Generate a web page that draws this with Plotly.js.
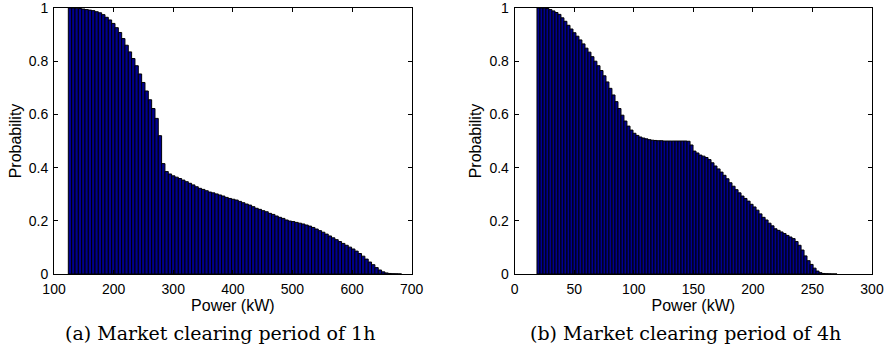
<!DOCTYPE html>
<html>
<head>
<meta charset="utf-8">
<script src="https://cdn.plot.ly/plotly-3.0.1.min.js"></script>
<style>html,body{margin:0;padding:0;background:#fff;}#chart{width:884px;height:349px;}</style>
</head>
<body>
<div id="chart"></div>
<script>
// ---- Data: (a) Market clearing period of 1h ----
const powerA = [126.8,132.4,138.0,143.6,149.2,154.8,160.3,165.9,171.5,177.1,182.7,188.3,193.9,199.5,205.1,210.7,216.2,221.8,227.4,233.0,
238.6,244.2,249.8,255.4,261.0,266.6,272.1,277.7,283.3,288.9,294.5,300.1,305.7,311.3,316.9,322.5,328.0,333.6,339.2,344.8,
350.4,356.0,361.6,367.2,372.8,378.4,383.9,389.5,395.1,400.7,406.3,411.9,417.5,423.1,428.7,434.3,439.8,445.4,451.0,456.6,
462.2,467.8,473.4,479.0,484.6,490.2,495.7,501.3,506.9,512.5,518.1,523.7,529.3,534.9,540.5,546.1,551.6,557.2,562.8,568.4,
574.0,579.6,585.2,590.8,596.4,602.0,607.5,613.1,618.7,624.3,629.9,635.5,641.1,646.7,652.3,657.9,663.4,669.0,674.6,680.2];
const probA = [1.0,1.0,0.999,0.998,0.996,0.994,0.992,0.99,0.986,0.982,0.975,0.965,0.955,0.942,0.926,0.908,0.885,0.86,0.835,0.81,
0.783,0.752,0.72,0.688,0.655,0.622,0.585,0.52,0.415,0.385,0.376,0.369,0.364,0.359,0.353,0.347,0.341,0.335,0.328,0.322,
0.318,0.313,0.308,0.305,0.301,0.297,0.293,0.288,0.284,0.281,0.278,0.273,0.268,0.263,0.259,0.253,0.247,0.243,0.238,0.234,
0.228,0.224,0.218,0.213,0.209,0.203,0.199,0.197,0.194,0.191,0.188,0.184,0.180,0.175,0.169,0.163,0.157,0.150,0.143,0.136,
0.129,0.122,0.115,0.108,0.101,0.094,0.086,0.077,0.067,0.056,0.045,0.035,0.024,0.015,0.008,0.004,0.002,0.001,0.0005,0.0002];

// ---- Data: (b) Market clearing period of 4h ----
const powerB = [20.0,22.5,25.0,27.5,30.0,32.6,35.1,37.6,40.1,42.6,45.2,47.7,50.2,52.7,55.2,57.8,60.3,62.8,65.3,67.8,
70.4,72.9,75.4,77.9,80.4,83.0,85.5,88.0,90.5,93.0,95.6,98.1,100.6,103.1,105.6,108.2,110.7,113.2,115.7,118.2,
120.8,123.3,125.8,128.3,130.8,133.4,135.9,138.4,140.9,143.4,146.0,148.5,151.0,153.5,156.0,158.6,161.1,163.6,166.1,168.6,
171.2,173.7,176.2,178.7,181.2,183.8,186.3,188.8,191.3,193.8,196.4,198.9,201.4,203.9,206.4,209.0,211.5,214.0,216.5,219.0,
221.6,224.1,226.6,229.1,231.6,234.2,236.7,239.2,241.7,244.2,246.8,249.3,251.8,254.3,256.8,259.4,261.9,264.4,266.9,269.4];
const probB = [1.0,1.0,1.0,0.998,0.994,0.989,0.983,0.976,0.963,0.95,
0.935,0.921,0.907,0.894,0.88,0.865,0.849,0.834,0.817,0.8,
0.783,0.765,0.745,0.722,0.698,0.673,0.648,0.622,0.597,0.575,
0.556,0.541,0.529,0.521,0.515,0.511,0.508,0.505,0.503,0.502,
0.501,0.501,0.5,0.5,0.5,0.5,0.5,0.5,0.5,0.5,
0.499,0.485,0.462,0.455,0.447,0.443,0.438,0.43,0.418,0.406,
0.395,0.383,0.371,0.358,0.343,0.33,0.317,0.305,0.293,0.284,
0.274,0.262,0.252,0.24,0.226,0.213,0.203,0.191,0.181,0.17,
0.164,0.158,0.152,0.145,0.139,0.133,0.122,0.108,0.09,0.068,
0.05,0.036,0.022,0.011,0.005,0.002,0.001,0.0005,0.0002,0.0001];

const xTicksA = [100,200,300,400,500,600,700];
const xTicksB = [0,50,100,150,200,250,300];
const yTicks = [0,0.2,0.4,0.6,0.8,1];
const captions = ['(a) Market clearing period of 1h','(b) Market clearing period of 4h'];

const barFill = '#000090';
const tickFont = {family:'Liberation Sans, Arial, sans-serif', size:14, color:'#000'};
const titleFont = {family:'Liberation Sans, Arial, sans-serif', size:16, color:'#000'};

const traces = [
  {type:'bar', x:powerA, y:probA, width:5.59, xaxis:'x', yaxis:'y',
   marker:{color:barFill, line:{color:'#000', width:1}}, hoverinfo:'x+y'},
  {type:'bar', x:powerB, y:probB, width:2.52, xaxis:'x2', yaxis:'y2',
   marker:{color:barFill, line:{color:'#000', width:1}}, hoverinfo:'x+y'}
];

function xAxis(dom, range, ticks, anchor){
  return {domain:dom, range:range, tickvals:ticks, ticktext:ticks.map(String), anchor:anchor,
    showline:true, mirror:'ticks', linecolor:'#000', linewidth:1, ticks:'inside', ticklen:4,
    tickcolor:'#000', showgrid:false, zeroline:false, tickfont:tickFont, ticklabelstandoff:2,
    ticklabeloverflow:'allow',
    title:{text:'Power (kW)', font:titleFont, standoff:0}};
}
function yAxis(dom, anchor){
  return {domain:dom, range:[0,1.00001], tickvals:yTicks, ticktext:yTicks.map(String), anchor:anchor,
    showline:true, mirror:'ticks', linecolor:'#000', linewidth:1, ticks:'inside', ticklen:4,
    tickcolor:'#000', showgrid:false, zeroline:false, tickfont:tickFont, ticklabelstandoff:2,
    ticklabeloverflow:'allow',
    title:{text:'Probability', font:titleFont, standoff:3}};
}

const yDom = [0.2149, 0.9771];
const capFont = {family:'DejaVu Serif, serif', size:19, color:'#000'};
const layout = {
  width:884, height:349, margin:{l:0,r:0,t:0,b:0},
  paper_bgcolor:'#fff', plot_bgcolor:'#fff', showlegend:false, bargap:0,
  xaxis: xAxis([0.0611,0.4657],[100,700],xTicksA,'y'),
  yaxis: yAxis(yDom,'x'),
  xaxis2: xAxis([0.5822,0.9864],[0,300],xTicksB,'y2'),
  yaxis2: yAxis(yDom,'x2'),
  annotations:[
    {text:captions[0], xref:'paper', yref:'paper', x:220/884, y:1-333/349, xanchor:'center', yanchor:'middle',
     showarrow:false, font:capFont},
    {text:captions[1], xref:'paper', yref:'paper', x:685/884, y:1-333/349, xanchor:'center', yanchor:'middle',
     showarrow:false, font:capFont}
  ]
};

Plotly.newPlot('chart', traces, layout, {staticPlot:true, displayModeBar:false});
</script>
</body>
</html>
